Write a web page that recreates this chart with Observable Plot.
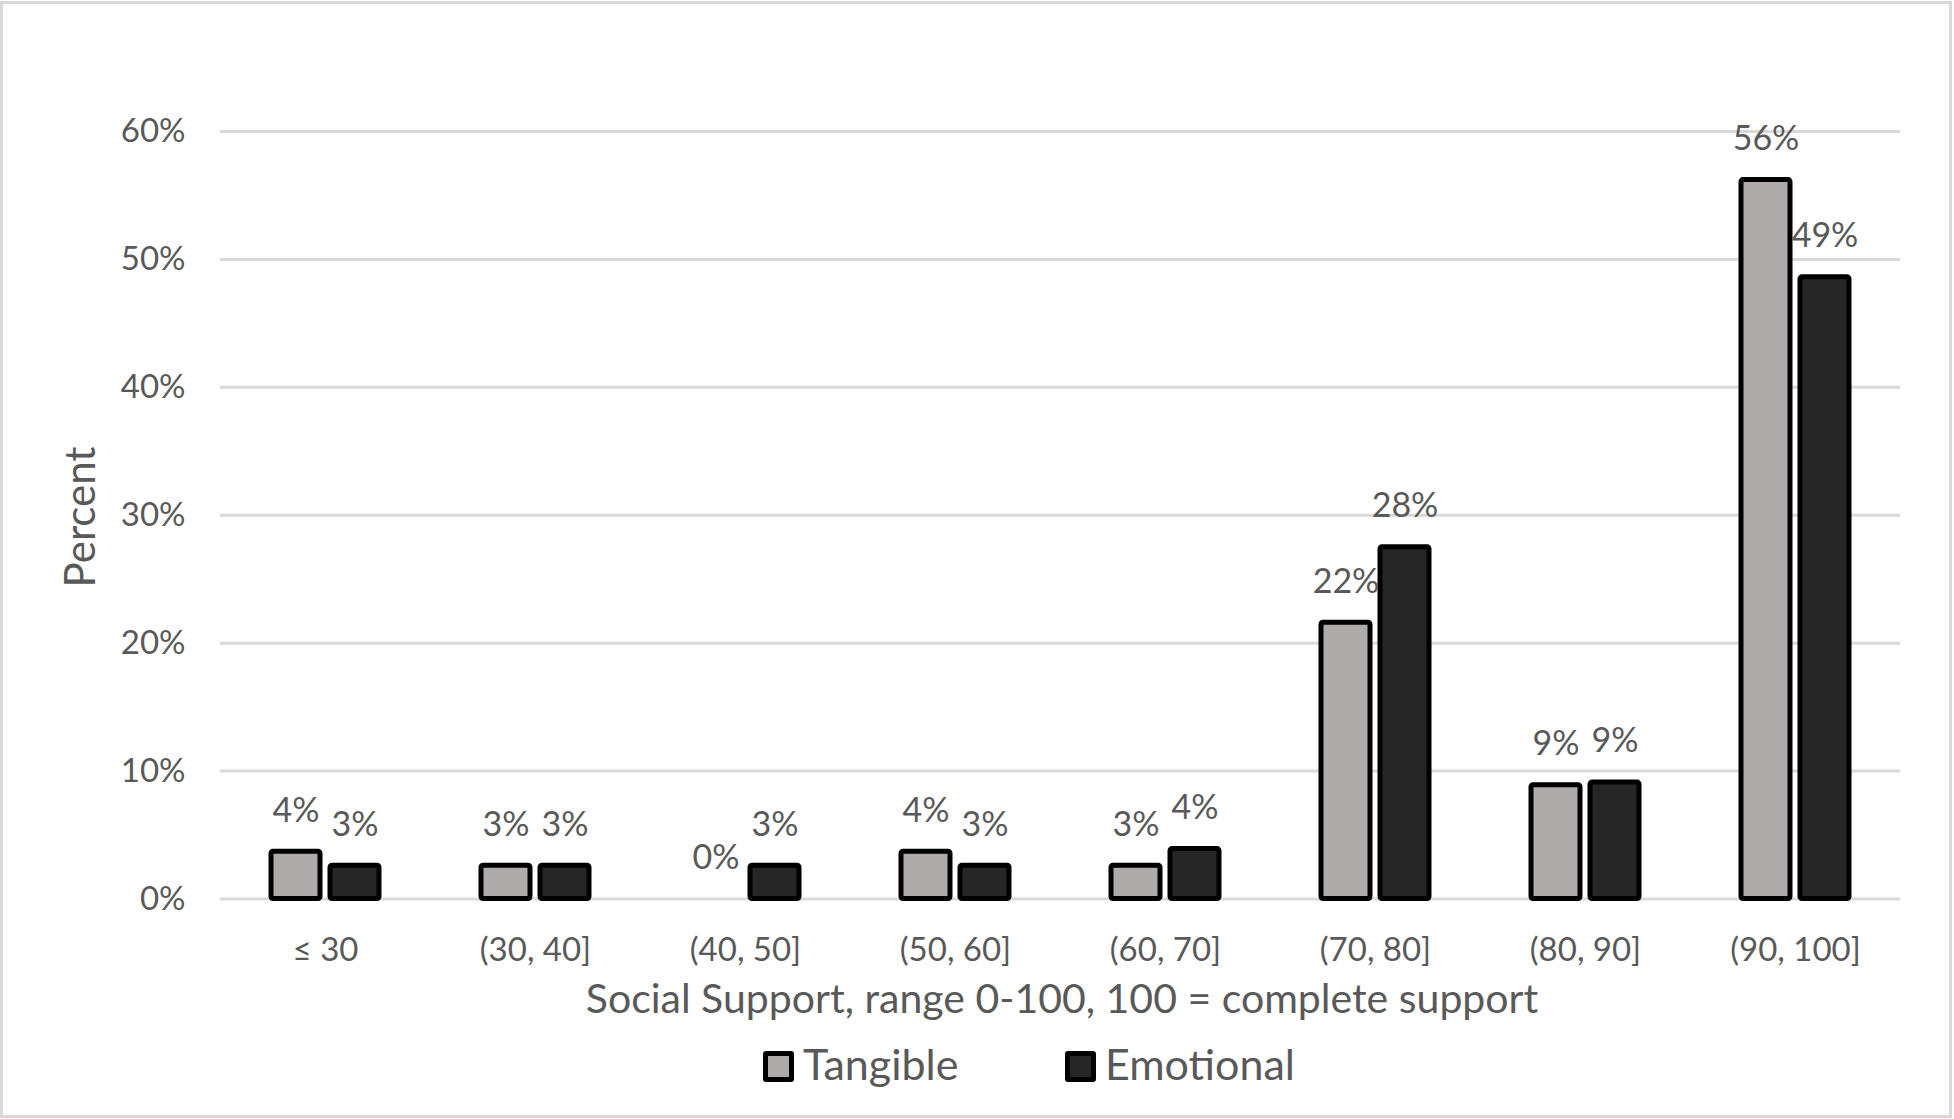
<!DOCTYPE html>
<html>
<head>
<meta charset="utf-8">
<script src="https://cdn.jsdelivr.net/npm/d3@7"></script>
<script src="https://cdn.jsdelivr.net/npm/@observablehq/plot@0.6"></script>
<style>
  html, body { margin: 0; padding: 0; background: #fff; }
  body { width: 1954px; height: 1119px; position: relative; overflow: hidden; font-family: Lato, "Open Sans", sans-serif; color: #595959; }
  #frame { position: absolute; left: 0; top: 1px; width: 1952px; height: 1117px; box-sizing: border-box; border: 3px solid #D9D9D9; }
  #chart { position: absolute; left: 0; top: 0; }
  .xtitle { position: absolute; left: 0; width: 2124px; top: 977px; font-size: 41px; line-height: 1; text-align: center; white-space: nowrap; }
  .ytitle { position: absolute; left: 79px; top: 517px; font-size: 42px; line-height: 1; white-space: nowrap; transform: translate(-50%, -50%) rotate(-90deg); }
  .legend-item { position: absolute; top: 1042px; display: flex; align-items: center; font-size: 43px; line-height: 1; white-space: nowrap; }
  .swatch { width: 31px; height: 31px; box-sizing: border-box; border: 5px solid #000; border-radius: 3px; margin-right: 9px; margin-top: 6px; }
</style>
</head>
<body>
<div id="frame"></div>
<div id="chart"></div>
<div class="xtitle" id="xtitle"></div>
<div class="ytitle" id="ytitle"></div>
<div id="legend"></div>
<script>
const categories = ["≤ 30", "(30, 40]", "(40, 50]", "(50, 60]", "(60, 70]", "(70, 80]", "(80, 90]", "(90, 100]"];
const series = ["Tangible", "Emotional"];
const tangible = [3.7, 2.6, 0, 3.7, 2.6, 21.6, 8.9, 56.2];
const emotional = [2.6, 2.6, 2.6, 2.6, 3.9, 27.5, 9.1, 48.6];
const yTicks = [0, 10, 20, 30, 40, 50, 60];
const seriesColors = ["#AFABAB", "#262626"];
const xTitle = "Social Support, range 0-100, 100 = complete support";
const yTitle = "Percent";

const valuesBySeries = [tangible, emotional];
const table = [];
categories.forEach((c, i) => {
  series.forEach((s, j) => {
    table.push({category: c, series: s, value: valuesBySeries[j][i]});
  });
});

const chart = Plot.plot({
  width: 1954,
  height: 1030,
  marginLeft: 218,
  marginRight: 52,
  marginTop: 131,
  marginBottom: 131.5,
  style: {fontFamily: "Lato, 'Open Sans', sans-serif", fontSize: "33px", color: "#595959", background: "transparent", overflow: "visible"},
  facet: {data: table, x: "category"},
  fx: {domain: categories, padding: 0, axis: "bottom", label: null, tickSize: 0, tickPadding: 39},
  x: {domain: series, axis: null, paddingInner: 0.17, paddingOuter: 0.86},
  y: {domain: [0, 60], ticks: yTicks, tickFormat: d => d + "%", tickSize: 0, tickPadding: 35, label: null},
  color: {domain: series, range: seriesColors},
  marks: [
    Plot.ruleY(yTicks, {stroke: "#D9D9D9", strokeWidth: 3}),
    Plot.barY(table, {x: "series", y: "value", fill: "series", stroke: "#000", strokeWidth: 5, rx: 2}),
    Plot.text(table, {x: "series", y: "value", text: d => Math.round(d.value) + "%", dy: -41, fill: "#595959", fontSize: 34})
  ]
});
document.getElementById("chart").appendChild(chart);

document.getElementById("xtitle").textContent = xTitle;
document.getElementById("ytitle").textContent = yTitle;

const legendLefts = [763, 1065];
const legend = document.getElementById("legend");
series.forEach((s, i) => {
  const item = document.createElement("div");
  item.className = "legend-item";
  item.style.left = legendLefts[i] + "px";
  const sw = document.createElement("div");
  sw.className = "swatch";
  sw.style.background = seriesColors[i];
  const label = document.createElement("span");
  label.textContent = s;
  item.appendChild(sw);
  item.appendChild(label);
  legend.appendChild(item);
});
</script>
</body>
</html>
